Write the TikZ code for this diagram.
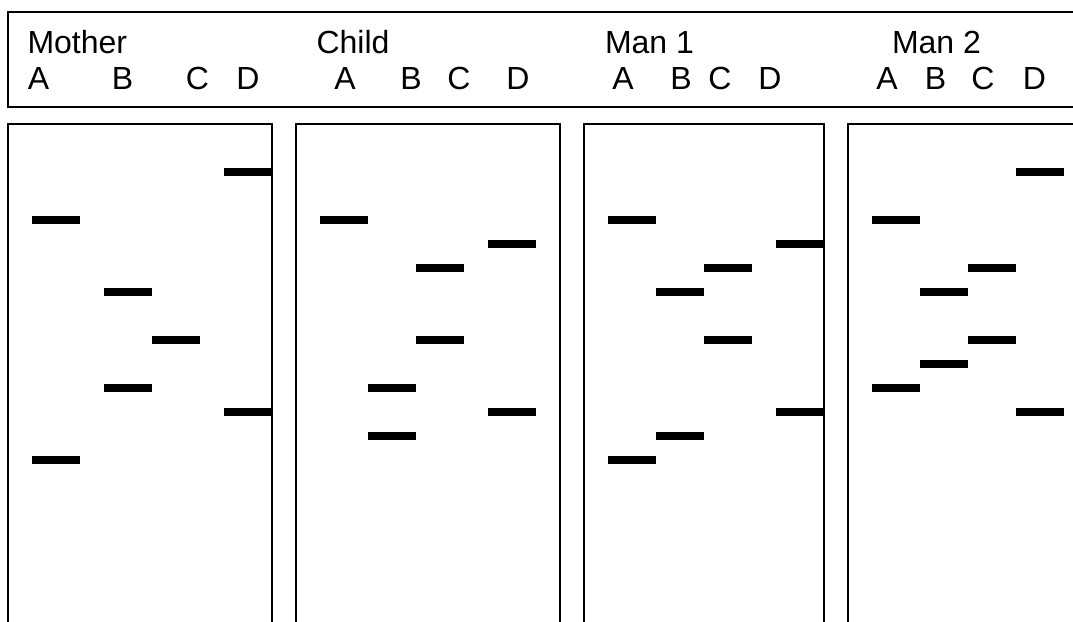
\documentclass[tikz,border=0pt]{standalone}
\usepackage{fontspec}
\setmainfont{Liberation Sans}
\usepackage{tikz}

\begin{document}
\begin{tikzpicture}[x=1pt, y=-1pt, line width=2pt,
    every node/.style={font=\fontsize{32}{38}\selectfont, inner sep=0pt}]
    \useasboundingbox (0,0) rectangle (1073,621);
    \clip (0,0) rectangle (1073,621);

    % Header box
    \draw (1090,12) -- (8,12) -- (8,107) -- (1090,107);

    % Gel lanes frames
    \foreach \l/\r in {8/272, 296/560, 584/824, 848/1112} {
        \draw (\l,640) -- (\l,124) -- (\r,124) -- (\r,640);
    }

    % Titles
    \foreach \n/\t/\x in {mother/Mother/26.5, child/Child/315.5, man1/Man 1/604, man2/Man 2/891} {
        \node[anchor=base west] (\n) at (\x,53) {\t};
    }

    % Lane letters
    \foreach \n/\xa/\xb/\xc/\xd in {mother/38.5/122.5/197.5/248, child/345/411/459/518,
        man1/623/681/720/770, man2/887/935.5/983/1034.5} {
        \node[anchor=base] (\n-A) at (\xa,89) {A};
        \node[anchor=base] (\n-B) at (\xb,89) {B};
        \node[anchor=base] (\n-C) at (\xc,89) {C};
        \node[anchor=base] (\n-D) at (\xd,89) {D};
    }

    % Bands
    \foreach \x/\y in {224/172, 32/220, 104/292, 152/340, 104/388, 224/412, 32/460,
        320/220, 488/244, 416/268, 416/340, 368/388, 488/412, 368/436,
        608/220, 776/244, 704/268, 656/292, 704/340, 776/412, 656/436, 608/460,
        1016/172, 872/220, 968/268, 920/292, 968/340, 920/364, 872/388, 1016/412} {
        \fill (\x,\y-4) rectangle +(48,8);
    }
\end{tikzpicture}
\end{document}
